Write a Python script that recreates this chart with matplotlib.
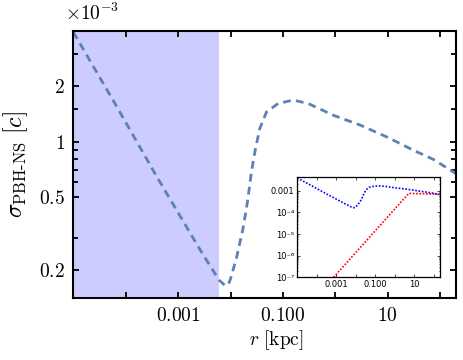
import numpy as np
import matplotlib
matplotlib.use("Agg")
import matplotlib.pyplot as plt
from matplotlib.ticker import FixedLocator, FixedFormatter, NullFormatter

plt.rcParams['mathtext.fontset'] = 'cm'
plt.rcParams['font.family'] = 'DejaVu Serif'

# sigma_PBH-NS curve (r in kpc, sigma in units of 1e-3 c)
log_r = [-5.0, -4.2, -3.41, -2.586, -2.22, -2.10, -2.04, -2.0, -1.886, -1.76,
         -1.676, -1.60, -1.523, -1.441, -1.313, -1.092, -0.805, -0.519,
         -0.04, 0.47, 0.98, 1.48, 1.87, 2.30]
sigma = [3.93, 1.60, 0.647, 0.260, 0.177, 0.165, 0.168, 0.180, 0.234, 0.340,
         0.474, 0.689, 0.921, 1.18, 1.45, 1.61, 1.68, 1.61,
         1.39, 1.23, 1.06, 0.90, 0.80, 0.67]

# second (red) curve of the inset
log_r_red = [-3.14, 0.71, 2.30]
red_vals = [1e-7, 7.6e-4, 6.9e-4]

shade_edge = 0.006  # kpc

r = 10.0 ** np.array(log_r)
r_red = 10.0 ** np.array(log_r_red)

fig = plt.figure(figsize=(4.63, 3.6), dpi=100)
ax = fig.add_axes([0.1583, 0.1714, 0.8266, 0.7433])

ax.axvspan(1e-5, shade_edge, color='#ccccff', lw=0, zorder=0)
ax.plot(r, sigma, color='#5e81b5', lw=2.0, dashes=(2.8, 1.9))

ax.set_xscale('log')
ax.set_yscale('log')
ax.set_xlim(1e-5, 200)
ax.set_ylim(0.141, 4.0)

xt = [1e-5, 1e-4, 1e-3, 1e-2, 1e-1, 1, 10, 100]
xl = ['', '', '$0.001$', '', '$0.100$', '', '$10$', '']
ax.xaxis.set_major_locator(FixedLocator(xt))
ax.xaxis.set_major_formatter(FixedFormatter(xl))
ax.xaxis.set_minor_locator(FixedLocator([]))

yt = [0.2, 0.5, 1, 2]
ax.yaxis.set_major_locator(FixedLocator(yt))
ax.yaxis.set_major_formatter(FixedFormatter(['$0.2$', '$0.5$', '$1$', '$2$']))
ax.yaxis.set_minor_locator(FixedLocator([0.3, 0.6, 0.7, 0.8, 0.9, 1.5, 3]))
ax.yaxis.set_minor_formatter(NullFormatter())

ax.tick_params(which='both', direction='in', top=True, right=True,
               labelsize=14, pad=6, width=1.3)
ax.tick_params(which='major', length=4.5)
ax.tick_params(which='minor', length=3.5)
for s in ax.spines.values():
    s.set_linewidth(1.5)

ax.set_xlabel(r'$r\ [\mathrm{kpc}]$', fontsize=14)
ax.xaxis.set_label_coords(0.531, -0.113)
ax.set_ylabel(r'$\sigma_{\text{PBH-NS}}\ [c]$', fontsize=17)
ax.yaxis.set_label_coords(-0.112, 0.5)
fig.text(65 / 463, 1 - 13 / 360, r'$\times 10^{-3}$', fontsize=14,
         ha='left', va='center')

# inset
ins = fig.add_axes([0.642, 0.2297, 0.308, 0.2778])
ins.plot(r, np.array(sigma) * 1e-3, color='#0000ff', lw=1.2, ls=(0, (1, 1)))
ins.plot(r_red, red_vals, color='#ff0000', lw=1.2, ls=(0, (1, 1)))
ins.set_xscale('log')
ins.set_yscale('log')
ins.set_xlim(1e-5, 200)
ins.set_ylim(1e-7, 4.2e-3)
ins.xaxis.set_major_locator(FixedLocator(xt))
ins.xaxis.set_major_formatter(FixedFormatter(['', '', '0.001', '', '0.100', '', '10', '']))
ins.xaxis.set_minor_locator(FixedLocator([]))
iyt = [1e-7, 1e-6, 1e-5, 1e-4, 1e-3]
ins.yaxis.set_major_locator(FixedLocator(iyt))
ins.yaxis.set_major_formatter(FixedFormatter(['10⁻⁷', '10⁻⁶', '10⁻⁵', '10⁻⁴', '0.001']))
ins.yaxis.set_minor_formatter(NullFormatter())
ins.tick_params(which='both', direction='in', top=True, right=True,
                labelsize=6, pad=2, width=0.5, labelfontfamily='DejaVu Sans')
ins.tick_params(which='major', length=2)
ins.tick_params(which='minor', length=1)
for s in ins.spines.values():
    s.set_linewidth(0.9)

fig.savefig('out.png', dpi=100)
